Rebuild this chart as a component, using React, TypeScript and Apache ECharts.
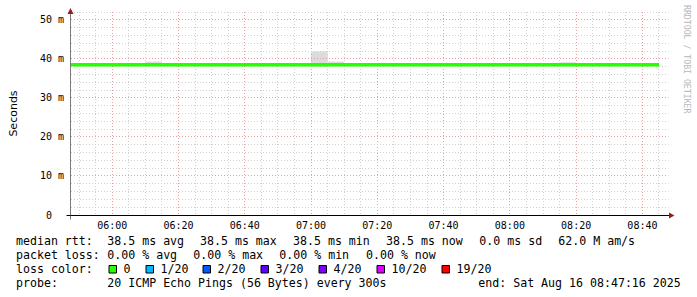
import React, { useEffect, useRef } from "react";
import * as echarts from "echarts";

// ---- data ----
const windowStart = "05:47:16";
const windowEnd = "08:47:16";
const xTickLabels = ["06:00", "06:20", "06:40", "07:00", "07:20", "07:40", "08:00", "08:20", "08:40"];
const yTickValues = [0, 10, 20, 30, 40, 50];

const medianTimes = [
  "05:50", "05:55", "06:00", "06:05", "06:10", "06:15", "06:20", "06:25", "06:30", "06:35", "06:40", "06:45",
  "06:50", "06:55", "07:00", "07:05", "07:10", "07:15", "07:20", "07:25", "07:30", "07:35", "07:40", "07:45",
  "07:50", "07:55", "08:00", "08:05", "08:10", "08:15", "08:20", "08:25", "08:30", "08:35", "08:40", "08:45",
];
const medianMs = [
  38.5, 38.5, 38.5, 38.5, 38.5, 38.5, 38.5, 38.5, 38.5, 38.5, 38.5, 38.5,
  38.5, 38.5, 38.5, 38.5, 38.5, 38.5, 38.5, 38.5, 38.5, 38.5, 38.5, 38.5,
  38.5, 38.5, 38.5, 38.5, 38.5, 38.5, 38.5, 38.5, 38.5, 38.5, 38.5, 38.5,
];

// smoke (spread of pings) per 5-minute step: start, end, low, high (ms)
const smokeStart = ["05:55", "06:00", "06:05", "06:10", "07:00", "07:05", "08:15"];
const smokeEnd = ["06:00", "06:05", "06:10", "06:15", "07:05", "07:10", "08:20"];
const smokeLow = [38.3, 38.3, 38.3, 38.2, 38.0, 38.3, 38.3];
const smokeHigh = [38.9, 38.9, 38.9, 39.3, 41.9, 39.3, 39.1];

const lossLabels = ["0", "1/20", "2/20", "3/20", "4/20", "10/20", "19/20"];
const lossColors = ["#26ff00", "#00b8ff", "#0059ff", "#5e00ff", "#7e00ff", "#dd00ff", "#ff0000"];

const rttLegend = ["38.5 ms avg", "38.5 ms max", "38.5 ms min", "38.5 ms now", "0.0 ms sd", "62.0 M am/s"];
const lossLegend = ["0.00 % avg", "0.00 % max", "0.00 % min", "0.00 % now"];
const probeText = "20 ICMP Echo Pings (56 Bytes) every 300s";
const endText = "end: Sat Aug 16 08:47:16 2025";

// ---- helpers ----
const toMin = (s: string) => {
  const p = s.split(":").map(Number);
  return p[0] * 60 + p[1] + (p[2] || 0) / 60;
};
const fmt = (v: number) => {
  const h = Math.floor(v / 60);
  const m = Math.round(v - h * 60);
  return String(h).padStart(2, "0") + ":" + String(m).padStart(2, "0");
};

const MONO = "'DejaVu Sans Mono', monospace";
const MINOR = "#d0d0d0";
const MAJOR = "#e8a0a0";
const ARROW = "#9b1c1c";

export default function App() {
  const ref = useRef<HTMLDivElement>(null);
  useEffect(() => {
    if (!ref.current) return;
    const chart = echarts.init(ref.current, null, { renderer: "svg" });
    const xMin = toMin(windowStart);
    const xMax = toMin(windowEnd);
    const yMax = 52;

    const lineData: number[][] = [[xMin, medianMs[0]]];
    medianTimes.forEach((t, i) => lineData.push([toMin(t), medianMs[i]]));
    const smokeData = smokeStart.map((s, i) => [toMin(s), toMin(smokeEnd[i]), smokeLow[i], smokeHigh[i]]);

    // grid lines: [value, isMajor]
    const majorX = xTickLabels.map(toMin);
    const xGrid: number[][] = [];
    for (let t = Math.ceil(xMin / 5) * 5; t <= xMax; t += 5) {
      if (majorX.indexOf(t) < 0) xGrid.push([t, 0]);
    }
    majorX.forEach((t) => xGrid.push([t, 1]));
    const yGrid: number[][] = [];
    for (let v = 2; v <= yMax; v += 2) {
      if (yTickValues.indexOf(v) < 0) yGrid.push([v, 0]);
    }
    yTickValues.filter((v) => v > 0).forEach((v) => yGrid.push([v, 1]));

    const textStyle = { fontFamily: MONO, fontSize: 11.6, fill: "#000" };
    const graphics: any[] = [];
    const rows = [241.3, 255, 268.8, 282.6];
    const addText = (text: string, x: number, y: number) =>
      graphics.push({ type: "text", x, y, silent: true, style: { ...textStyle, text, verticalAlign: "middle", align: "left" } });
    addText("median rtt:", 16, rows[0]);
    const rttX = [107.3, 200, 293, 386, 479.3, 558.3];
    rttLegend.forEach((t, i) => addText(t, rttX[i], rows[0]));
    addText("packet loss:", 16, rows[1]);
    const lossX = [107.3, 193.3, 279.3, 366];
    lossLegend.forEach((t, i) => addText(t, lossX[i], rows[1]));
    addText("loss color:", 16, rows[2]);
    const boxX = [109, 146, 203, 261, 319, 377, 442];
    lossLabels.forEach((l, i) => {
      graphics.push({
        type: "rect",
        silent: true,
        shape: { x: boxX[i], y: 265.5, width: 7.5, height: 7.5 },
        style: { fill: lossColors[i], stroke: "#000", lineWidth: 1 },
      });
      addText(l, boxX[i] + 14.5, rows[2]);
    });
    addText("probe:", 16, rows[3]);
    addText(probeText, 107.3, rows[3]);
    addText(endText, 478.3, rows[3]);
    graphics.push({
      type: "text",
      x: 687,
      y: 5,
      rotation: -Math.PI / 2,
      silent: true,
      style: { text: "RRDTOOL / TOBI OETIKER", fontFamily: MONO, fontSize: 8.2, fill: "#b8b8b8", align: "left", verticalAlign: "middle" },
    });

    const snap = (v: number) => Math.round(v - 0.5) + 0.5;

    chart.setOption({
      animation: false,
      backgroundColor: "#ffffff",
      grid: { left: 66, top: 12, right: 30.5, bottom: 82, containLabel: false },
      xAxis: {
        type: "value",
        min: xMin,
        max: xMax,
        z: 10,
        splitLine: { show: false },
        axisTick: { show: false },
        axisLine: { show: true, lineStyle: { color: "#000", width: 1 } },
        axisLabel: {
          customValues: majorX,
          formatter: (v: number) => fmt(v),
          fontFamily: MONO,
          fontSize: 10,
          color: "#000",
          margin: 5,
        },
      },
      yAxis: {
        type: "value",
        min: 0,
        max: yMax,
        interval: 10,
        z: 10,
        name: "Seconds",
        nameLocation: "middle",
        nameGap: 51,
        nameTextStyle: { fontFamily: "'DejaVu Sans', sans-serif", fontSize: 11, color: "#000" },
        splitLine: { show: false },
        axisTick: { show: false },
        axisLine: { show: true, lineStyle: { color: "#7a7a7a", width: 1 } },
        axisLabel: {
          fontFamily: MONO,
          fontSize: 10,
          color: "#000",
          margin: 6,
          formatter: (v: number) => {
            if (yTickValues.indexOf(v) < 0) return "";
            return v === 0 ? "{z|0}" : v + " m";
          },
          rich: { z: { fontFamily: MONO, fontSize: 10, color: "#000", padding: [0, 12, 0, 0] } },
        },
      },
      series: [
        {
          type: "custom",
          z: 2,
          silent: true,
          clip: true,
          data: smokeData,
          encode: { x: [0, 1], y: [2, 3] },
          renderItem: (params: any, api: any) => {
            const p0 = api.coord([api.value(0), api.value(3)]);
            const p1 = api.coord([api.value(1), api.value(2)]);
            return {
              type: "rect",
              shape: { x: p0[0], y: p0[1], width: p1[0] - p0[0], height: p1[1] - p0[1] },
              style: { fill: "#dcdcdc" },
            };
          },
        },
        {
          type: "custom",
          z: 3,
          silent: true,
          clip: false,
          data: xGrid,
          encode: { x: 0 },
          renderItem: (params: any, api: any) => {
            const cs = params.coordSys;
            const x = snap(api.coord([api.value(0), 0])[0]);
            return {
              type: "line",
              shape: { x1: x, y1: cs.y, x2: x, y2: cs.y + cs.height },
              style: { stroke: api.value(1) ? MAJOR : MINOR, lineWidth: 1, lineDash: [1, 2] },
            };
          },
        },
        {
          type: "custom",
          z: 3,
          silent: true,
          clip: false,
          data: yGrid,
          encode: { y: 0 },
          renderItem: (params: any, api: any) => {
            const cs = params.coordSys;
            const y = snap(api.coord([xMin, api.value(0)])[1]);
            return {
              type: "line",
              shape: { x1: cs.x + 1, y1: y, x2: cs.x + cs.width + 2, y2: y },
              style: { stroke: api.value(1) ? MAJOR : MINOR, lineWidth: 1, lineDash: [1, 2] },
            };
          },
        },
        {
          type: "line",
          z: 5,
          silent: true,
          data: lineData,
          showSymbol: false,
          lineStyle: { color: "#26ff00", width: 3.6 },
          itemStyle: { color: "#26ff00" },
        },
        {
          // axis arrows / overshoot, placed at the ends of the axes through the chart's scales
          type: "custom",
          z: 20,
          silent: true,
          clip: false,
          data: [[xMax, 0, 0], [xMin, yMax, 1]],
          encode: { x: 0, y: 1 },
          renderItem: (params: any, api: any) => {
            const p = api.coord([api.value(0), api.value(1)]);
            const cx = snap(p[0]);
            const cy = snap(p[1]);
            if (api.value(2) === 0) {
              return {
                type: "group",
                children: [
                  { type: "line", shape: { x1: cx, y1: cy, x2: cx + 3, y2: cy }, style: { stroke: "#000", lineWidth: 1 } },
                  { type: "polygon", shape: { points: [[cx + 8, cy], [cx + 2.5, cy - 3], [cx + 2.5, cy + 3]] }, style: { fill: ARROW } },
                ],
              };
            }
            const by = snap(params.coordSys.y + params.coordSys.height);
            return {
              type: "group",
              children: [
                { type: "line", shape: { x1: cx, y1: by, x2: cx, y2: by + 4 }, style: { stroke: "#7a7a7a", lineWidth: 1 } },
                { type: "line", shape: { x1: cx - 4, y1: by, x2: cx, y2: by }, style: { stroke: "#000", lineWidth: 1 } },
                { type: "polygon", shape: { points: [[cx, cy - 4.5], [cx - 3, cy + 1.5], [cx + 3, cy + 1.5]] }, style: { fill: ARROW } },
              ],
            };
          },
        },
      ],
      graphic: graphics,
    });
    return () => chart.dispose();
  }, []);
  return <div ref={ref} style={{ position: "fixed", left: 0, top: 0, width: 697, height: 297 }} />;
}
